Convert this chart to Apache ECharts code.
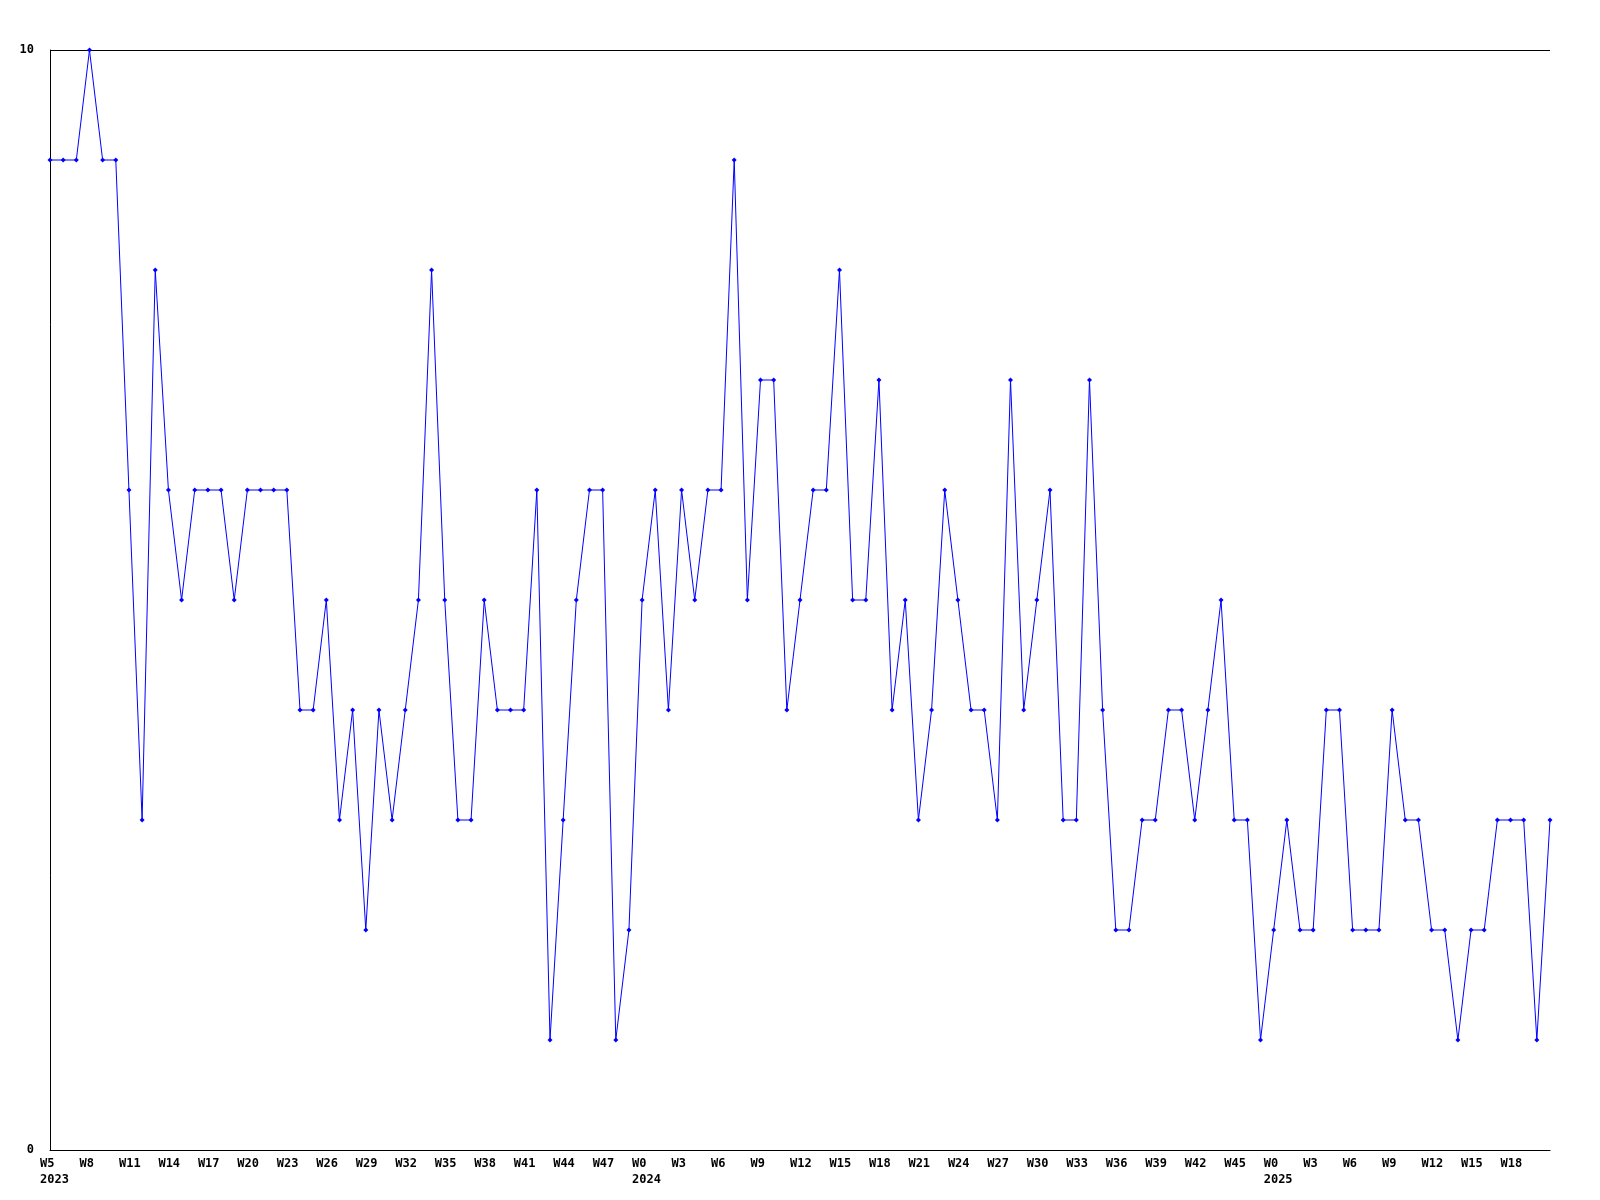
<!DOCTYPE html>
<html>
<head>
<meta charset="utf-8">
<script src="https://cdn.jsdelivr.net/npm/echarts@6/dist/echarts.min.js"></script>
<style>
  html, body { margin: 0; padding: 0; background: #fff; }
  #chart { width: 1600px; height: 1200px; }
</style>
</head>
<body>
<div id="chart"></div>
<script>
// Week categories (year shown under the first week of each year)
const categories = [
  'W5\n2023','W6','W7','W8','W9','W10','W11','W12','W13','W14','W15','W16','W17','W18','W19','W20',
  'W21','W22','W23','W24','W25','W26','W27','W28','W29','W30','W31','W32','W33','W34','W35','W36',
  'W37','W38','W39','W40','W41','W42','W43','W44','W45','W46','W47','W48','W49',
  'W0\n2024','W1','W2','W3','W4','W5','W6','W7','W8','W9','W10','W11','W12','W13','W14','W15','W16',
  'W17','W18','W19','W20','W21','W22','W23','W24','W25','W26','W27','W28','W29','W30','W31','W32',
  'W33','W34','W35','W36','W37','W38','W39','W40','W41','W42','W43','W44','W45','W46','W47',
  'W0\n2025','W1','W2','W3','W4','W5','W6','W7','W8','W9','W10','W11','W12','W13','W14','W15','W16',
  'W17','W18','W19','W20','W21'
];

// Weekly values
const values = [
  9, 9, 9, 10, 9, 9, 6, 3, 8, 6,
  5, 6, 6, 6, 5, 6, 6, 6, 6, 4,
  4, 5, 3, 4, 2, 4, 3, 4, 5, 8,
  5, 3, 3, 5, 4, 4, 4, 6, 1, 3,
  5, 6, 6, 1, 2, 5, 6, 4, 6, 5,
  6, 6, 9, 5, 7, 7, 4, 5, 6, 6,
  8, 5, 5, 7, 4, 5, 3, 4, 6, 5,
  4, 4, 3, 7, 4, 5, 6, 3, 3, 7,
  4, 2, 2, 3, 3, 4, 4, 3, 4, 5,
  3, 3, 1, 2, 3, 2, 2, 4, 4, 2,
  2, 2, 4, 3, 3, 2, 2, 1, 2, 2,
  3, 3, 3, 1, 3
];

const yMin = 0, yMax = 10, yStep = 10;

const font = 'DejaVu Sans Mono';
const chart = echarts.init(document.getElementById('chart'), null, { renderer: 'canvas' });
chart.setOption({
  animation: false,
  backgroundColor: '#ffffff',
  grid: { left: 50, right: 50, top: 50, bottom: 50, containLabel: false },
  xAxis: {
    type: 'category',
    data: categories,
    boundaryGap: false,
    axisLine: { show: true, lineStyle: { color: '#000', width: 1 } },
    axisTick: { show: false },
    splitLine: { show: false },
    axisLabel: {
      interval: 2,
      showMaxLabel: false,
      color: '#000',
      fontFamily: font,
      fontWeight: 'bold',
      fontSize: 12,
      lineHeight: 16,
      align: 'left',
      padding: [0, 0, 0, -10],
      margin: 6
    }
  },
  yAxis: {
    type: 'value',
    min: yMin,
    max: yMax,
    interval: yStep,
    axisLine: { show: true, lineStyle: { color: '#000', width: 1 } },
    axisTick: { show: false },
    splitLine: { show: true, lineStyle: { color: '#000', width: 1, type: 'solid' } },
    axisLabel: {
      color: '#000',
      fontFamily: font,
      fontWeight: 'bold',
      fontSize: 12,
      margin: 16
    }
  },
  series: [{
    type: 'line',
    data: values,
    symbol: 'diamond',
    symbolSize: 5,
    showAllSymbol: true,
    lineStyle: { color: '#0000ff', width: 1 },
    itemStyle: { color: '#0000ff' },
    emphasis: { disabled: true }
  }]
});
</script>
</body>
</html>
